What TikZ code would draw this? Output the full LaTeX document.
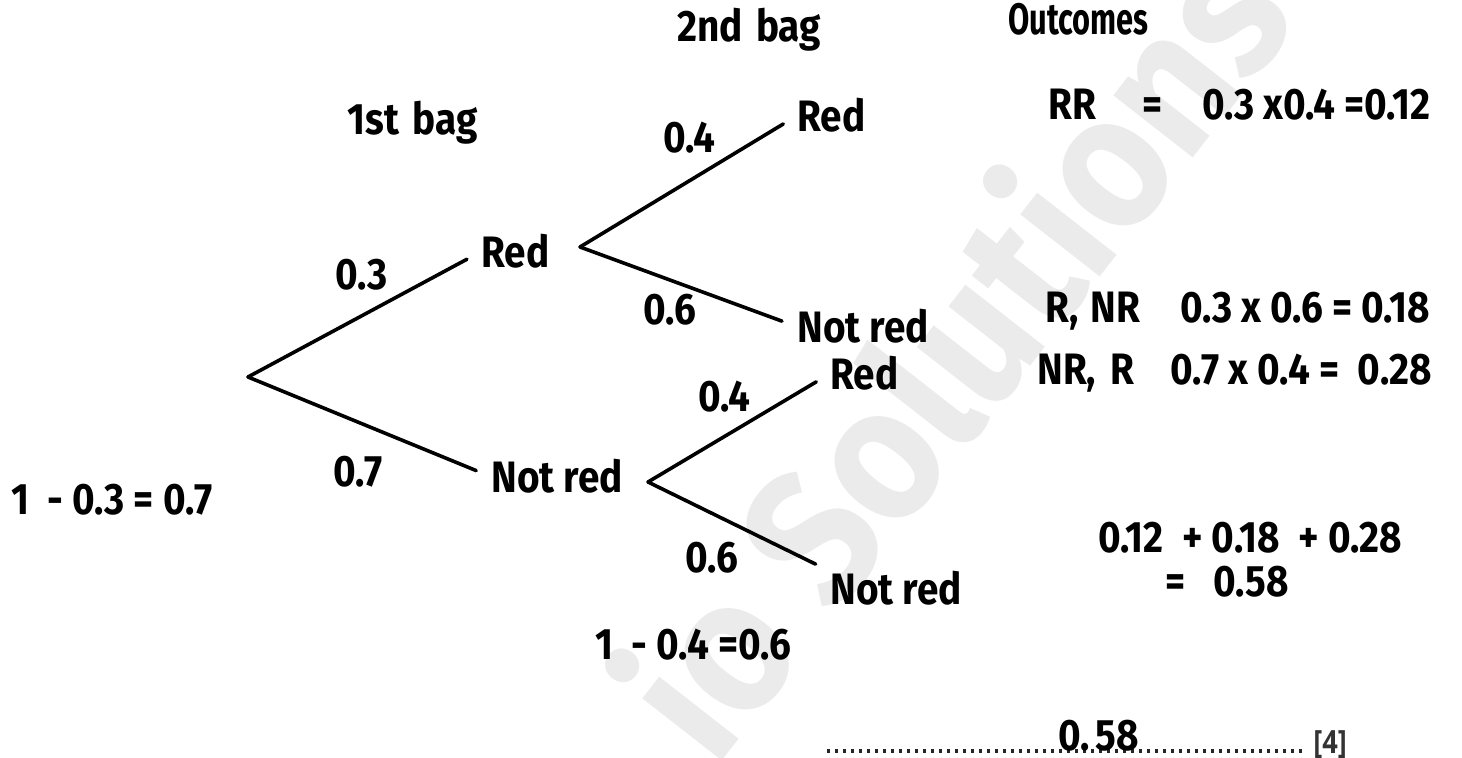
\documentclass[tikz,border=0pt]{standalone}
\usepackage{fontspec}
\setmainfont{Fira Sans}
\newfontfamily\handfont{Fira Sans}[FakeStretch=0.88]
\newfontfamily\handnarrow{Fira Sans}[FakeStretch=0.7]
\newfontfamily\markfont{Fira Sans}[FakeStretch=0.92]
\newfontfamily\scorefont{Open Sans}[FakeStretch=0.85]
\usetikzlibrary{positioning}

\tikzset{
  hand/.style={font=\handfont\bfseries\fontsize{22}{26}\selectfont, inner sep=0pt, anchor=base west},
  narrowhand/.style={hand, font=\handnarrow\bfseries\fontsize{22}{26}\selectfont},
  branch/.style={line width=1.8pt, line cap=round, shorten >=8pt},
  ansline/.style={line width=1.6pt, black!85, dash pattern=on 1.6pt off 2.4pt},
  scoretext/.style={font=\scorefont\bfseries\fontsize{16}{18}\selectfont, black!80, inner sep=0pt, anchor=base west},
  wmark/.style={gray!16, font=\markfont\bfseries\fontsize{95}{100}\selectfont, rotate=52, anchor=base west, inner sep=0pt},
}

\begin{document}
\begin{tikzpicture}[x=0.5pt, y=-0.5pt]
\useasboundingbox (0,0) rectangle (1462,758);

% watermark
\begin{scope}
\clip (0,0) rectangle (1462,758);
\node[wmark] (wm) at (715,770) {io Solutions};
\end{scope}

% column headings
\node[hand] (bag1) at (347,135) {1st\hspace{7pt}bag};
\node[hand] (bag2) at (677,42) {2nd\hspace{2pt} bag};
\node[narrowhand] (outc) at (1008,35) {Outcomes};

% tree
\coordinate (root) at (248,377);
\node[hand] (r1) at (481,268) {Red};
\node[hand] (n1) at (491,493) {Not red};
\coordinate (s1) at (580,247);
\coordinate (s2) at (648,482);
\node[hand] (rr) at (797,132) {Red};
\node[hand] (rn) at (797,343) {Not red};
\node[hand] (nr) at (830,390) {Red};
\node[hand] (nn) at (830,605) {Not red};

\draw[branch] (root) -- (r1.west);
\draw[branch] (root) -- (n1.west);
\draw[branch] (s1) -- (rr.west);
\draw[branch] (s1) -- (rn.west);
\draw[branch] (s2) -- (nr.west);
\draw[branch] (s2) -- (nn.north west);

% branch probabilities
\node[hand] (p1) at (335,290) {0.3};
\node[hand] (p2) at (333,487) {0.7};
\node[hand] (p3) at (663,153) {0.4};
\node[hand] (p4) at (643,325) {0.6};
\node[hand] (p5) at (698,412) {0.4};
\node[hand] (p6) at (685,573) {0.6};
\node[hand] (c1) at (11,515) {1\ \ - 0.3 = 0.7};
\node[hand] (c2) at (595,660) {1\ \ - 0.4 =0.6};

% outcomes
\node[hand] (o1) at (1048,120) {RR\hspace{23pt}=\hspace{20pt}0.3 x0.4 =0.12};
\node[hand] (o2) at (1045,323) {R,\hspace{6pt}NR\hspace{20pt}0.3 x 0.6 = 0.18};
\node[hand] (o3) at (1037,385) {NR,\hspace{7pt}R\hspace{18pt}0.7 x 0.4 =\ \ 0.28};
\node[hand] (sum) at (1098,553) {0.12\ \ + 0.18\ \ + 0.28};
\node[hand] (tot) at (1165,597) {=\hspace{14pt}0.58};

% answer line
\coordinate (a1) at (827,751);
\coordinate (a2) at (1303,751);
\draw[ansline] (a1) -- (a2);
\node[hand] (ans) at (1058,750) {0.\hspace{3pt}58};
\node[scoretext] (score) at (1313,753) {[4]};
\end{tikzpicture}
\end{document}
